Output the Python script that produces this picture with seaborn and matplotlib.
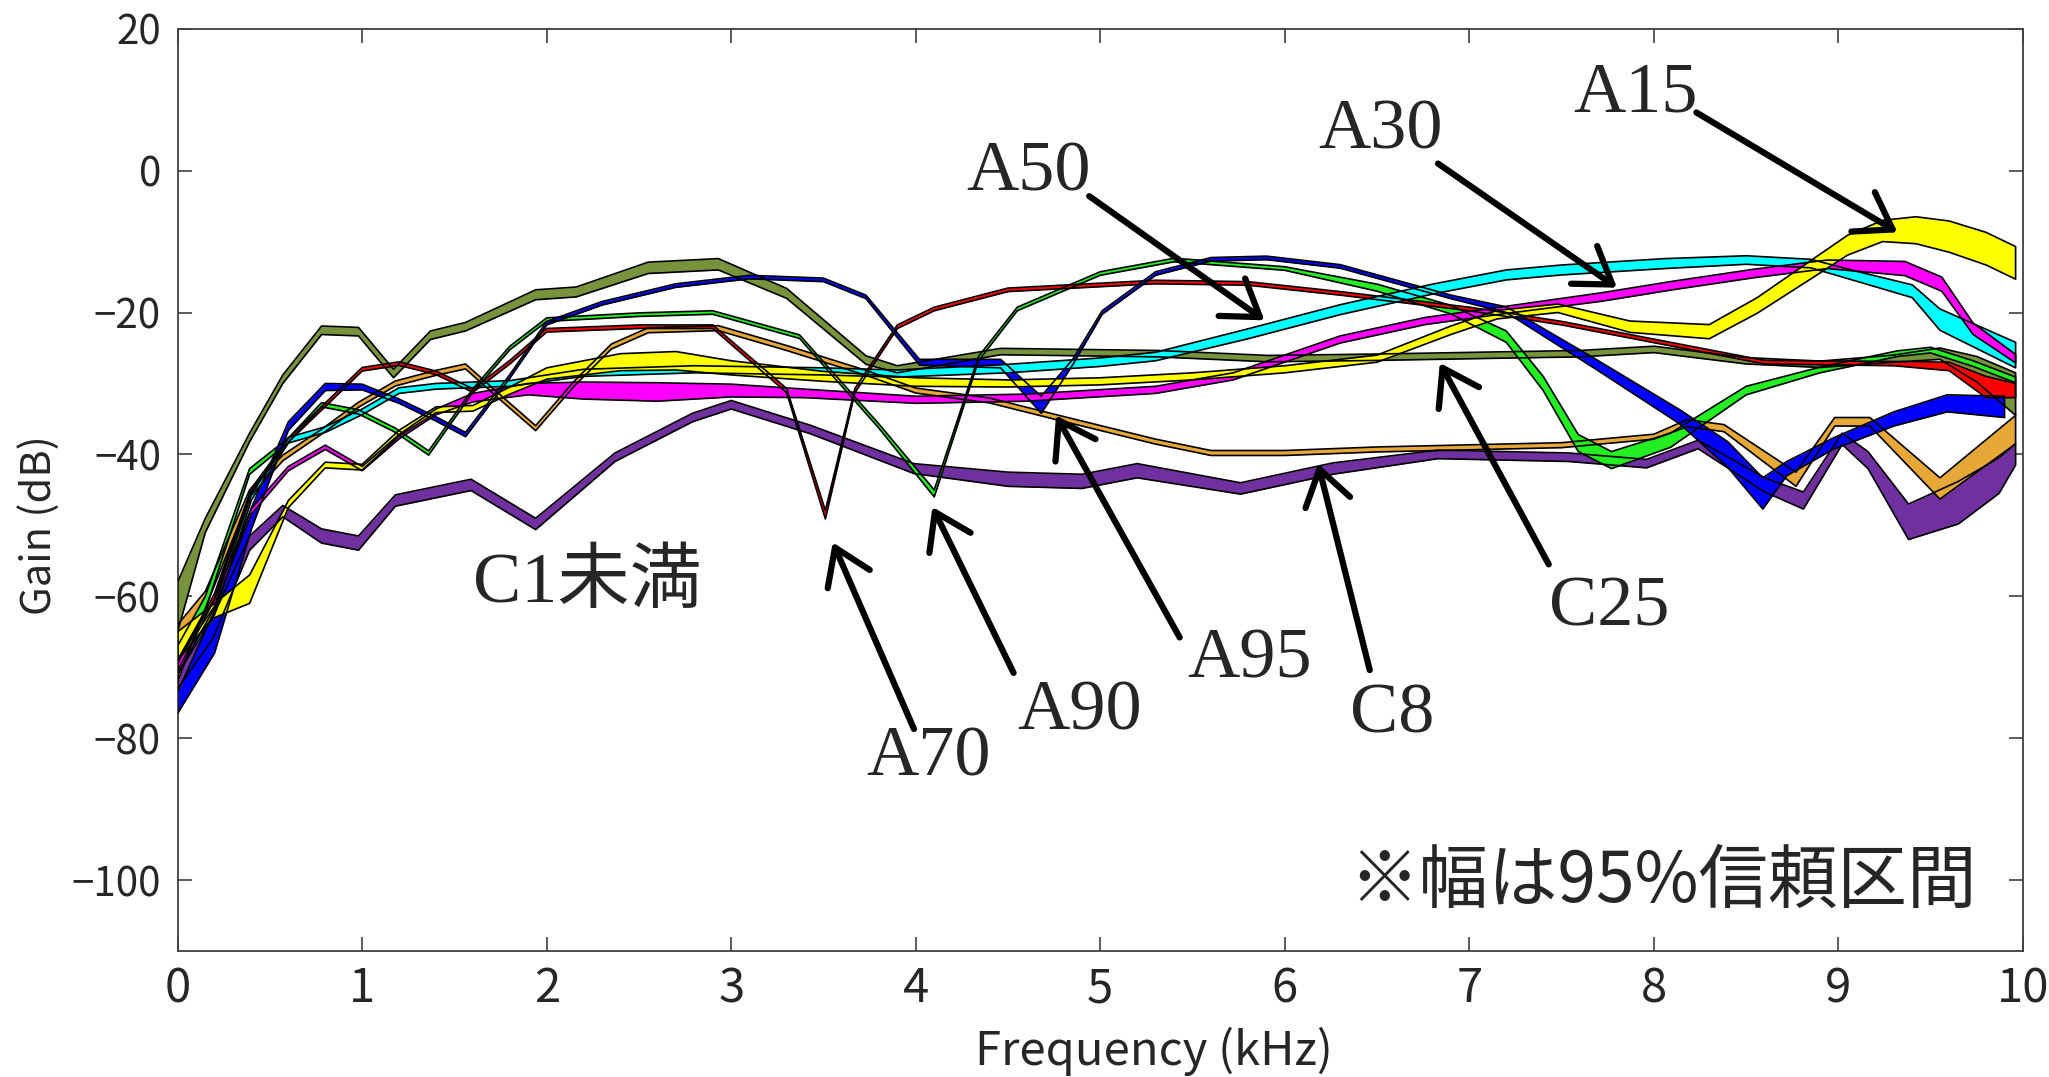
import numpy as np
import pandas as pd
import matplotlib
matplotlib.use("Agg")
import matplotlib.pyplot as plt
import seaborn as sns

# --- gain bands (centre dB and half width of the 95% interval) per group ---
a15_khz = [0, 0.2, 0.39, 0.6, 0.8, 1.0, 1.2, 1.4, 1.6, 1.8, 2.0, 2.4, 2.7, 3.0, 3.5, 4.0, 4.5, 5.0, 5.5, 6.0,
           6.5, 6.9, 7.15, 7.48, 7.87, 8.3, 8.56, 8.86, 9.05, 9.24, 9.42, 9.6, 9.8, 9.96]
a15_db = [-67, -62, -59, -47, -41.5, -41.8, -37, -33.7, -33.5, -31, -28.6, -27, -26.8, -27.8, -29, -29.8, -30,
          -29.7, -29, -28, -26.5, -22.5, -20.3, -19.4, -22, -22.7, -19, -13.8, -10.5, -8.5, -8.4, -9.3, -11, -13]
a15_ci = [2, 1, 2, 0.5, 0.4, 0.4, 0.4, 0.4, 0.4, 0.5, 0.8, 1.2, 1.3, 1, 0.7, 0.6, 0.5, 0.5, 0.5, 0.5,
          0.5, 0.6, 0.6, 0.6, 0.8, 1.0, 1.1, 1.3, 1.4, 1.5, 1.9, 2.2, 2.3, 2.3]

a30_khz = [0, 0.2, 0.4, 0.6, 0.8, 1.0, 1.2, 1.4, 1.6, 1.9, 2.2, 2.6, 3.0, 3.4, 4.0, 4.6, 5.3, 5.72, 6.3,
           6.76, 7.15, 7.72, 8.1, 8.54, 8.94, 9.36, 9.56, 9.73, 9.96]
a30_db = [-70, -61, -48, -42, -39, -42, -37.5, -34, -32, -30.8, -31, -31.2, -31, -31.4, -32.3, -32, -30.9, -29,
          -23.8, -21.2, -19.8, -17.8, -16.2, -14.5, -13.2, -13.8, -16, -22.3, -26.5]
a30_ci = [1.0, 0.6, 0.4, 0.3, 0.3, 0.3, 0.3, 0.4, 0.6, 0.8, 1.2, 1.3, 0.9, 0.6, 0.5, 0.5, 0.5, 0.5, 0.5,
          0.5, 0.5, 0.6, 0.6, 0.6, 0.6, 1.0, 1.0, 0.8, 0.6]

a50_khz = [0, 0.2, 0.4, 0.6, 0.8, 1.0, 1.2, 1.4, 1.8, 2.2, 2.8, 3.5, 3.9, 4.5, 5.0, 5.3, 5.8, 6.3, 6.8, 7.2,
           7.5, 8.06, 8.5, 8.85, 9.1, 9.4, 9.55, 9.96]
a50_db = [-70, -62, -46, -38, -36.5, -34, -31, -30.4, -30, -28.5, -28, -28.3, -28.6, -27.9, -27, -26.2, -23,
          -19.6, -16.7, -14.7, -14, -13.1, -12.6, -13.1, -14.9, -17, -21, -26]
a50_ci = [1, 0.6, 0.4, 0.4, 0.4, 0.4, 0.4, 0.4, 0.4, 0.5, 0.5, 0.5, 0.5, 0.6, 0.6, 0.6, 0.7, 0.7, 0.7, 0.7,
          0.7, 0.7, 0.6, 0.6, 0.7, 0.9, 1.5, 1.8]

a70_khz = [0, 0.2, 0.4, 0.6, 0.8, 1.0, 1.2, 1.4, 1.6, 1.8, 2.0, 2.5, 2.9, 3.3, 3.51, 3.67, 3.9, 4.1, 4.5, 5.3,
           5.8, 6.3, 7.0, 7.5, 7.9, 8.6, 9.3, 9.6, 9.8, 9.96]
a70_db = [-70, -60, -45, -38, -33, -28, -27.2, -28.5, -31, -27, -22.5, -22, -22, -31, -48.5, -31, -22, -19.5,
          -16.8, -15.7, -15.9, -17.3, -19.5, -21.5, -23.5, -27, -27.2, -27.6, -30.5, -31]
a70_ci = [0.5, 0.4, 0.25, 0.25, 0.25, 0.25, 0.25, 0.25, 0.25, 0.25, 0.25, 0.25, 0.25, 0.3, 0.6, 0.3, 0.25,
          0.25, 0.25, 0.25, 0.25, 0.25, 0.25, 0.25, 0.25, 0.25, 0.3, 0.6, 1.5, 1.0]

a90_khz = [0, 0.15, 0.39, 0.6, 0.78, 0.98, 1.18, 1.36, 1.6, 1.8, 2.0, 2.5, 2.9, 3.37, 3.8, 4.1, 4.34, 4.55,
           5.0, 5.4, 6.0, 6.5, 6.9, 7.2, 7.4, 7.59, 7.77, 8.09, 8.5, 8.9, 9.32, 9.5, 9.73, 9.96]
a90_db = [-68, -61, -42.4, -38, -33, -34, -36.6, -39.8, -31, -25, -21, -20.3, -20, -23.4, -36, -45.5, -26.5,
          -19.5, -14.5, -12.6, -13.8, -16.5, -19.6, -23.4, -30, -38.4, -40.8, -38, -31, -28.1, -25.8, -25.3,
          -27.2, -29.5]
a90_ci = [1, 1, 0.4, 0.3, 0.3, 0.3, 0.3, 0.3, 0.25, 0.25, 0.25, 0.25, 0.25, 0.25, 0.3, 0.5, 0.3, 0.25, 0.25,
          0.25, 0.25, 0.5, 0.6, 0.8, 1.0, 1.2, 1.2, 1.0, 0.6, 0.4, 0.4, 0.4, 0.4, 0.4]

a95_khz = [0, 0.2, 0.4, 0.6, 0.8, 1.0, 1.2, 1.4, 1.56, 1.8, 2.0, 2.3, 2.7, 3.1, 3.5, 3.73, 4.02, 4.46, 4.68,
           4.85, 5.01, 5.3, 5.6, 5.9, 6.3, 6.9, 7.2, 7.68, 8.14, 8.4, 8.59, 8.72, 8.97, 9.3, 9.59, 9.9]
a95_db = [-75, -65, -49, -36, -30.5, -30.5, -32.5, -35, -37.2, -29, -21.5, -18.7, -16.2, -15, -15.4, -17.8,
          -27, -27.2, -33, -27, -20, -14.5, -12.5, -12.3, -13.5, -17.8, -19.6, -27.2, -34.7, -40, -45.5, -42,
          -38.5, -35, -32.8, -33.3]
a95_ci = [1.5, 3, 1.5, 0.6, 0.5, 0.4, 0.3, 0.3, 0.3, 0.25, 0.25, 0.25, 0.25, 0.25, 0.25, 0.25, 0.4, 0.6, 1.2,
          0.4, 0.25, 0.25, 0.25, 0.25, 0.25, 0.25, 0.4, 0.7, 1.0, 1.8, 2.2, 1.0, 0.8, 1.0, 1.2, 1.5]

c8_khz = [0, 0.19, 0.39, 0.57, 0.78, 0.98, 1.18, 1.59, 1.94, 2.37, 2.79, 3.0, 3.43, 3.99, 4.5, 4.9, 5.2, 5.76,
          6.26, 6.83, 7.54, 7.96, 8.24, 8.6, 8.81, 9.02, 9.16, 9.38, 9.65, 9.87, 9.96]
c8_db = [-71, -64.5, -52.5, -48, -51.5, -52.5, -46.5, -44.3, -49.8, -40.4, -34.8, -33, -36.5, -42, -43.5, -43.8,
         -42.3, -44.8, -42, -40, -40.4, -41.3, -38.6, -44.3, -46.5, -37.8, -40.8, -49.5, -46.8, -43, -40]
c8_ci = [2, 1.5, 1, 0.8, 1, 1, 0.8, 0.8, 0.8, 0.6, 0.6, 0.6, 0.6, 0.7, 1, 1, 1, 0.8, 0.8, 0.6,
         0.6, 0.6, 0.6, 1, 1.2, 0.8, 1.2, 2.5, 3, 2.5, 1.5]

c25_khz = [0, 0.15, 0.39, 0.57, 0.78, 0.98, 1.17, 1.37, 1.56, 1.94, 2.16, 2.55, 2.93, 3.3, 3.73, 3.9, 4.46,
           5.31, 5.91, 6.5, 7.15, 7.6, 8.0, 8.5, 8.9, 9.3, 9.55, 9.75, 9.96]
c25_db = [-61.5, -50, -37.6, -29.4, -22.5, -22.7, -28.6, -23.2, -22, -17.5, -17.1, -13.7, -13.2, -17.3, -26.7,
          -28, -25.5, -25.8, -26.5, -26.3, -26, -25.8, -25.2, -26.8, -27.3, -26.5, -25.8, -28, -31.5]
c25_ci = [3.5, 1, 0.6, 0.6, 0.6, 0.6, 0.6, 0.6, 0.6, 0.7, 0.7, 0.8, 0.8, 0.7, 0.6, 0.5, 0.45, 0.45, 0.45, 0.45,
          0.45, 0.45, 0.45, 0.45, 0.45, 0.5, 0.8, 1.8, 3]

c1_khz = [0, 0.15, 0.39, 0.57, 0.78, 0.98, 1.18, 1.4, 1.56, 1.75, 1.94, 2.15, 2.35, 2.55, 2.93, 3.3, 3.73, 4.0,
          4.4, 4.8, 5.3, 5.6, 6.0, 6.5, 7.0, 7.5, 8.0, 8.18, 8.38, 8.77, 8.98, 9.17, 9.55, 9.96]
c1_db = [-68, -60.5, -45.5, -40.5, -36.8, -33, -30, -28.5, -27.6, -32, -36.3, -30, -24.8, -22.5, -22.2, -25,
         -28.5, -31, -32.4, -35, -38.2, -39.8, -39.8, -39.3, -39, -38.7, -37.5, -35.6, -36.3, -43.5, -35.4,
         -35.4, -44.8, -36.5]
c1_ci = [4, 1.2, 0.5, 0.4, 0.35, 0.35, 0.35, 0.35, 0.35, 0.35, 0.35, 0.35, 0.35, 0.35, 0.35, 0.35, 0.35, 0.35,
         0.35, 0.35, 0.35, 0.35, 0.35, 0.35, 0.35, 0.35, 0.35, 0.5, 0.5, 1.0, 0.6, 0.6, 1.5, 2.0]

# drawing order: later groups sit on top
groups = [
    ("C25", c25_khz, c25_db, c25_ci, "#77933C"),
    ("C8", c8_khz, c8_db, c8_ci, "#7030A0"),
    ("C1", c1_khz, c1_db, c1_ci, "#E8A838"),
    ("A90", a90_khz, a90_db, a90_ci, "#22EE22"),
    ("A70", a70_khz, a70_db, a70_ci, "#FF0000"),
    ("A95", a95_khz, a95_db, a95_ci, "#0000FF"),
    ("A50", a50_khz, a50_db, a50_ci, "#00FFFF"),
    ("A30", a30_khz, a30_db, a30_ci, "#FF00FF"),
    ("A15", a15_khz, a15_db, a15_ci, "#FFFF00"),
]

# annotation layout: label, text centre, arrow tail, arrow tip (data coords)
callouts = [
    ("A15", (7.90, 10.8), (8.23, 8.2), (9.32, -8.7)),
    ("A30", (6.52, 5.6), (6.83, 1.0), (7.80, -16.5)),
    ("A50", (4.61, -0.4), (4.94, -3.6), (5.89, -21.1)),
    ("A70", (4.07, -82.8), (3.99, -78.7), (3.55, -52.4)),
    ("A90", (4.89, -76.3), (4.53, -70.8), (4.09, -47.4)),
    ("A95", (5.81, -69.0), (5.43, -65.8), (4.76, -34.5)),
    ("C8", (6.58, -76.7), (6.46, -70.4), (6.18, -41.3)),
    ("C25", (7.76, -61.6), (7.43, -55.5), (6.84, -27.1)),
]

sns.set_theme(style="ticks")
plt.rcParams["font.family"] = ["Noto Sans CJK JP", "DejaVu Sans"]
plt.rcParams["axes.unicode_minus"] = True

fig = plt.figure(figsize=(20.49, 10.77), dpi=100)
ax = fig.add_axes([0.0867, 0.117, 0.9006, 0.8563])

for name, khz, db, ci, color in groups:
    df = pd.DataFrame({"freq": khz, "gain": db, "ci": ci})
    df["lo"] = df["gain"] - df["ci"]
    df["hi"] = df["gain"] + df["ci"]
    ax.fill_between(df["freq"], df["lo"], df["hi"], color=color, lw=0, zorder=2)
    # closed outline of the band
    outline = pd.DataFrame({
        "freq": list(df["freq"]) + list(df["freq"][::-1]) + [df["freq"].iloc[0]],
        "gain": list(df["lo"]) + list(df["hi"][::-1]) + [df["lo"].iloc[0]],
    })
    sns.lineplot(data=outline, x="freq", y="gain", sort=False, estimator=None,
                 color="black", lw=1.2, ax=ax, legend=False, zorder=3)

serif = ["Liberation Serif", "Noto Sans CJK JP"]
for label, txt, tail, tip in callouts:
    ax.text(txt[0], txt[1], label, fontsize=52, family=serif, ha="center", va="center", zorder=5)
    ax.annotate("", xy=tip, xytext=tail,
                arrowprops=dict(arrowstyle="->,head_length=0.45,head_width=0.3", lw=4.5,
                                color="black", mutation_scale=55, shrinkA=0, shrinkB=0),
                zorder=5)

ax.text(2.22, -58.3, "C1未満", fontsize=52, family=serif, ha="center", va="center", zorder=5)
ax.text(8.05, -100.3, "※幅は95%信頼区間", fontsize=50, ha="center", va="center", zorder=5)

ax.set_xlim(0, 10)
ax.set_ylim(-110, 20)
ax.set_xticks(range(0, 11))
ax.set_yticks(range(-100, 21, 20))
ax.tick_params(direction="in", top=True, right=True, length=10, width=1.2, color="#404040")
ax.tick_params(axis="x", labelsize=34, pad=10)
ax.tick_params(axis="y", labelsize=29, pad=12)
for side in ax.spines.values():
    side.set_visible(True)
    side.set_color("#404040")
    side.set_linewidth(1.3)

ax.set_xlabel("Frequency (kHz)", fontsize=34)
ax.set_ylabel("Gain (dB)", fontsize=30)
ax.xaxis.set_label_coords(0.529, -0.082)
ax.yaxis.set_label_coords(-0.064, 0.462)

fig.savefig("out.png", dpi=100, facecolor="white")
